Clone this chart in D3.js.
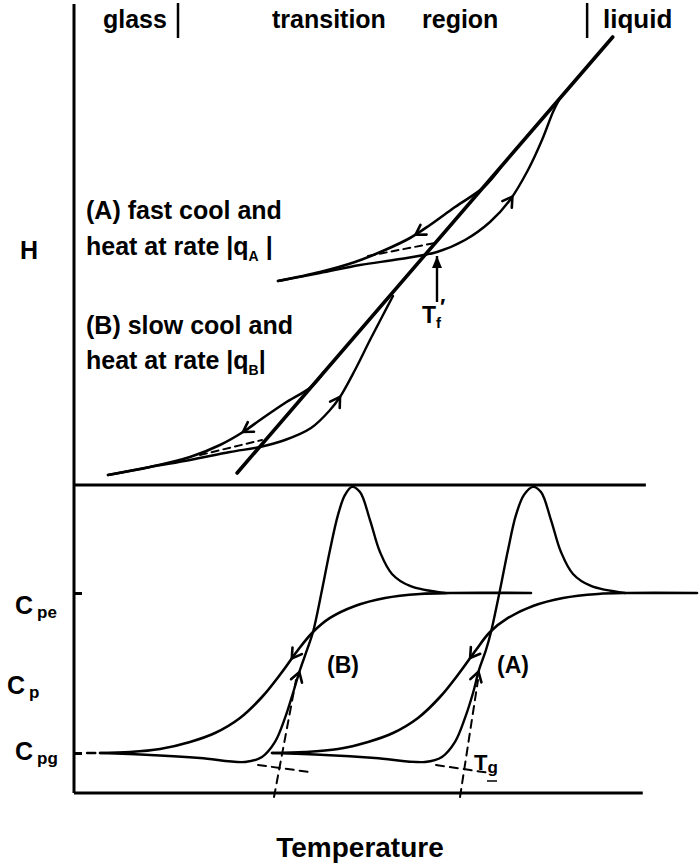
<!DOCTYPE html>
<html>
<head>
<meta charset="utf-8">
<script src="https://cdn.jsdelivr.net/npm/d3@7"></script>
<style>
  body { margin: 0; background: #fff; }
  svg { display: block; }
  text { font-family: "Liberation Sans", Arial, Helvetica, sans-serif; font-weight: bold; fill: #000; }
</style>
</head>
<body>
<div id="chart"></div>
<script>
// ---- data (temperature in arbitrary units 0-100, H arbitrary, Cp relative: glass = 0, equilibrium = 1)
const liquidLine = [[26.1, 1.75], [86.2, 110.75]];

// curve (A): fast cooling / heating
const coolA_H = [[68.2, 78], [65.6, 73.25], [60.96, 68.25], [56.96, 63.75], [53.76, 60.5], [49.76, 57.5], [44.96, 54.5], [39.36, 52], [32.64, 49.75]];
const heatA_H = [[32.64, 49.75], [39.36, 51.75], [45.76, 53.75], [52.16, 55.25], [58.08, 57], [62.56, 60], [66.56, 64.5], [69.76, 70], [72.64, 77.5], [74.88, 85], [76.64, 92], [77.6, 95]];
const glassExtA = [[47.04, 56], [57.76, 59.25]];

// curve (B): slow cooling / heating
const coolB_H = [[40, 27], [37.92, 23.25], [33.76, 19.25], [29.76, 15], [27.04, 12], [23.36, 8.75], [18.56, 5.75], [12.16, 3.25], [5.44, 1.25]];
const heatB_H = [[5.44, 1.25], [12.16, 3.25], [18.56, 5], [24.96, 7], [29.76, 8.25], [33.76, 10], [37.92, 13], [40.96, 17.5], [42.56, 20.75], [44.96, 27.5], [47.36, 35], [49.44, 41.25], [51.04, 46]];
const glassExtB = [[20.16, 6.25], [30.08, 10]];

const fictiveT = 58.08;
const fictiveArrowH = [44.5, 56];

// heat capacity curves
const coolB_Cp = [[4.16, 0], [8.96, 0.006], [13.76, 0.025], [18.56, 0.069], [22.56, 0.125], [26.56, 0.219], [30.08, 0.35], [33.28, 0.506], [35.84, 0.644], [38.24, 0.756], [40.96, 0.844], [44.96, 0.919], [49.76, 0.969], [55.36, 0.994], [60.16, 1], [73.12, 1]];
const heatB_Cp = [[4.16, 0], [12.16, -0.0125], [20.16, -0.031], [27.36, -0.056], [30.08, -0.025], [32.16, 0.069], [33.76, 0.219], [35.04, 0.375], [36.16, 0.519], [37.28, 0.644], [38.24, 0.756], [39.68, 1.019], [40.96, 1.269], [42.24, 1.488], [43.36, 1.613], [44.48, 1.663], [45.76, 1.631], [47.36, 1.456], [48.96, 1.256], [50.88, 1.119], [53.76, 1.044], [59.36, 1]];
const coolA_Cp = [[31.68, 0], [36.96, 0.006], [42.24, 0.025], [47.04, 0.069], [51.04, 0.125], [55.04, 0.219], [58.56, 0.35], [61.76, 0.506], [64.32, 0.644], [66.56, 0.756], [69.44, 0.844], [73.44, 0.919], [78.24, 0.969], [83.84, 0.994], [88.64, 1], [99.68, 1]];
const heatA_Cp = [[31.68, 0], [40.16, -0.0125], [48.16, -0.031], [56.16, -0.056], [58.88, -0.025], [60.96, 0.069], [62.56, 0.219], [63.84, 0.375], [64.8, 0.519], [65.92, 0.644], [66.72, 0.756], [68.16, 1.019], [69.44, 1.269], [70.72, 1.488], [72, 1.613], [73.44, 1.663], [74.72, 1.631], [76.32, 1.456], [77.92, 1.256], [79.84, 1.119], [82.72, 1.044], [88.16, 1]];
const tgB_dash = [[[32, -0.275], [35.52, 0.456]], [[29.44, -0.075], [37.76, -0.119]]];
const tgA_dash = [[[61.76, -0.275], [64.64, 0.456]], [[57.92, -0.075], [66.56, -0.125]]];

const regionBounds = [16.64, 82.1];
const cpTicks = [0, 1];

// ---- layout
const width = 699, height = 867;
const svg = d3.select('#chart').append('svg').attr('width', width).attr('height', height);

const x = d3.scaleLinear().domain([0, 100]).range([74, 699]);
const yH = d3.scaleLinear().domain([0, 120]).range([480, 0]);
const yCp = d3.scaleLinear().domain([0, 1]).range([753, 593]);

const lineH = d3.line().x(d => x(d[0])).y(d => yH(d[1]));
const curveH = d3.line().x(d => x(d[0])).y(d => yH(d[1])).curve(d3.curveCatmullRom.alpha(0.5));
const lineCp = d3.line().x(d => x(d[0])).y(d => yCp(d[1]));
const curveCp = d3.line().x(d => x(d[0])).y(d => yCp(d[1])).curve(d3.curveCatmullRom.alpha(0.5));

function draw(gen, data, w, dash) {
  return svg.append('path')
    .attr('d', gen(data))
    .attr('fill', 'none')
    .attr('stroke', '#000')
    .attr('stroke-width', w)
    .attr('stroke-linecap', 'round')
    .attr('stroke-linejoin', 'round')
    .attr('stroke-dasharray', dash || null);
}

// open chevron arrow placed on a path near a point, pointing along the path (dir 1) or backwards (dir -1)
function arrowOn(path, px, py, dir) {
  const node = path.node();
  const L = node.getTotalLength();
  let best = 0, bestD = Infinity;
  for (let l = 0; l <= L; l += 0.5) {
    const p = node.getPointAtLength(l);
    const d = (p.x - px) ** 2 + (p.y - py) ** 2;
    if (d < bestD) { bestD = d; best = l; }
  }
  const p0 = node.getPointAtLength(Math.max(0, best - 3));
  const p1 = node.getPointAtLength(Math.min(L, best + 3));
  let ang = Math.atan2(p1.y - p0.y, p1.x - p0.x);
  if (dir < 0) ang += Math.PI;
  const tip = node.getPointAtLength(best);
  const len = 11, spread = 0.55;
  const a = [tip.x - len * Math.cos(ang - spread), tip.y - len * Math.sin(ang - spread)];
  const b = [tip.x - len * Math.cos(ang + spread), tip.y - len * Math.sin(ang + spread)];
  svg.append('path')
    .attr('d', `M${a[0]},${a[1]}L${tip.x},${tip.y}L${b[0]},${b[1]}`)
    .attr('fill', 'none').attr('stroke', '#000').attr('stroke-width', 2.6)
    .attr('stroke-linecap', 'round').attr('stroke-linejoin', 'miter');
}

// ---- frame
svg.append('line').attr('x1', x(0)).attr('x2', x(0)).attr('y1', 4).attr('y2', yCp(-0.25))
  .attr('stroke', '#000').attr('stroke-width', 3);
svg.append('line').attr('x1', x(0)).attr('x2', x(91.5)).attr('y1', yCp(1.675)).attr('y2', yCp(1.675))
  .attr('stroke', '#000').attr('stroke-width', 3);
svg.append('line').attr('x1', x(0)).attr('x2', x(91)).attr('y1', yCp(-0.25)).attr('y2', yCp(-0.25))
  .attr('stroke', '#000').attr('stroke-width', 3);

const ax = svg.append('g').attr('transform', `translate(${x(0)},0)`)
  .call(d3.axisRight(yCp).tickValues(cpTicks).tickSize(8).tickFormat(''));
ax.select('.domain').remove();
ax.selectAll('line').attr('stroke', '#000').attr('stroke-width', 3);
// small dash after the glass tick
draw(lineCp, [[2.1, 0], [3.4, 0]], 2.5);

// region markers
regionBounds.forEach(t => {
  svg.append('line').attr('x1', x(t)).attr('x2', x(t)).attr('y1', 3).attr('y2', 38)
    .attr('stroke', '#000').attr('stroke-width', 2.5);
});
svg.append('text').attr('x', 103).attr('y', 28).attr('font-size', 25).text('glass');
svg.append('text').attr('x', 272).attr('y', 28).attr('font-size', 25).text('transition');
svg.append('text').attr('x', 422).attr('y', 28).attr('font-size', 25).text('region');
svg.append('text').attr('x', 603).attr('y', 28).attr('font-size', 26).text('liquid');

// ---- enthalpy panel
draw(lineH, liquidLine, 3.6);
const cA = draw(curveH, coolA_H, 2.6);
const hA = draw(curveH, heatA_H, 2.4);
draw(lineH, glassExtA, 2, '7,5');
const cB = draw(curveH, coolB_H, 2.6);
const hB = draw(curveH, heatB_H, 2.4);
draw(lineH, glassExtB, 2, '7,5');
svg.append('path').attr('d', d3.line()([[x(fictiveT), yH(fictiveArrowH[0])], [x(fictiveT), yH(fictiveArrowH[1])]]))
  .attr('stroke', '#000').attr('stroke-width', 2.4);
svg.append('path')
  .attr('d', `M${x(fictiveT) - 5},${yH(fictiveArrowH[1]) + 12}L${x(fictiveT)},${yH(fictiveArrowH[1])}L${x(fictiveT) + 5},${yH(fictiveArrowH[1]) + 12}Z`)
  .attr('fill', '#000');

arrowOn(cA, 417, 237, 1);
arrowOn(hA, 513, 197, 1);
arrowOn(cB, 243, 432, 1);
arrowOn(hB, 340, 397, 1);

// T_f' as one text element
const tf = svg.append('text').attr('x', 422).attr('y', 323).attr('font-size', 23);
tf.append('tspan').text('T');
tf.append('tspan').attr('font-size', 15).attr('dy', 5).text('f');
tf.append('tspan').attr('font-size', 22).attr('dx', -1).attr('dy', -14).text('′');

svg.append('text').attr('x', 20).attr('y', 259).attr('font-size', 25).text('H');

svg.append('text').attr('x', 86).attr('y', 219).attr('font-size', 25).text('(A) fast cool and');
const qa = svg.append('text').attr('x', 86).attr('y', 255).attr('font-size', 25);
qa.append('tspan').text('heat at rate |q');
qa.append('tspan').attr('font-size', 14).attr('dy', 6).text('A');
qa.append('tspan').attr('dy', -6).text(' |');

svg.append('text').attr('x', 86).attr('y', 334).attr('font-size', 25).text('(B) slow cool and');
const qb = svg.append('text').attr('x', 86).attr('y', 369).attr('font-size', 25);
qb.append('tspan').text('heat at rate |q');
qb.append('tspan').attr('font-size', 14).attr('dy', 6).text('B');
qb.append('tspan').attr('dy', -6).text('|');

// ---- heat capacity panel
const ccB = draw(curveCp, coolB_Cp, 2.6);
const chB = draw(curveCp, heatB_Cp, 2.4);
const ccA = draw(curveCp, coolA_Cp, 2.6);
const chA = draw(curveCp, heatA_Cp, 2.4);
tgB_dash.concat(tgA_dash).forEach(seg => draw(lineCp, seg, 2, '8,6'));

arrowOn(ccB, 287, 655, -1);
arrowOn(chB, 300, 672, 1);
arrowOn(ccA, 466, 655, -1);
arrowOn(chA, 479, 672, 1);

svg.append('text').attr('x', 327).attr('y', 673).attr('font-size', 23).text('(B)');
svg.append('text').attr('x', 497).attr('y', 673).attr('font-size', 23).text('(A)');
const tg = svg.append('text').attr('x', 474).attr('y', 770).attr('font-size', 22);
tg.append('tspan').text('T');
tg.append('tspan').attr('font-size', 17).attr('dy', 3).text('g');
svg.append('line').attr('x1', 487).attr('x2', 497).attr('y1', 781).attr('y2', 781).attr('stroke', '#000').attr('stroke-width', 1.5);

function cpLabel(sub, xPos, yPos) {
  const t = svg.append('text').attr('x', xPos).attr('y', yPos).attr('font-size', 25);
  t.append('tspan').text('C');
  t.append('tspan').attr('font-size', 17).attr('dx', 4).attr('dy', 4).text(sub);
}
cpLabel('pe', 15, 614);
cpLabel('p', 7, 694);
cpLabel('pg', 15, 760);

svg.append('text').attr('x', 360).attr('y', 857).attr('text-anchor', 'middle').attr('font-size', 28).text('Temperature');
</script>
</body>
</html>
